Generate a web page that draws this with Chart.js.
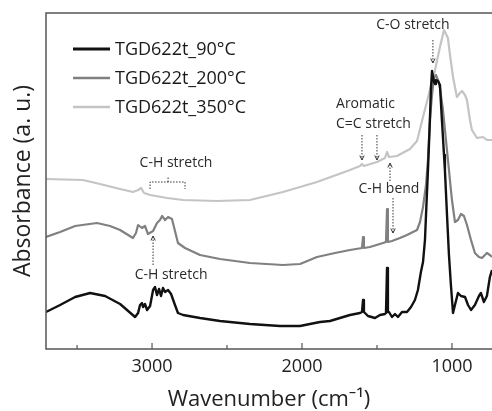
<!DOCTYPE html>
<html><head><meta charset="utf-8">
<script src="https://cdn.jsdelivr.net/npm/chart.js@4"></script>
<style>html,body{margin:0;padding:0;background:#fff}#wrap{width:492px;height:411px}</style>
</head><body><div id="wrap"><canvas id="c" width="492" height="411"></canvas></div>
<script>
const seriesLabels = ['TGD622t_90\u00B0C', 'TGD622t_200\u00B0C', 'TGD622t_350\u00B0C'];

const wn90 = [3707,3613,3513,3413,3313,3213,3113,3093,3080,3067,
  3060,3047,3033,3013,2993,2980,2967,2953,2940,2927,
  2913,2893,2873,2847,2827,2793,2680,2547,2347,2147,
  2013,1947,1880,1813,1747,1680,1613,1600,1593,1587,
  1560,1513,1480,1447,1440,1433,1427,1420,1400,1380,
  1360,1333,1300,1273,1247,1227,1207,1193,1180,1173,
  1160,1147,1140,1133,1120,1113,1107,1093,1080,1067,
  1053,1047,1033,1020,1007,993,980,960,940,913,
  893,873,847,820,807,787,767,747,733];
const abs90 = [0.37,0.44,0.52,0.56,0.53,0.45,0.32,0.36,0.44,0.46,
  0.42,0.45,0.39,0.43,0.59,0.62,0.54,0.60,0.53,0.61,
  0.57,0.59,0.55,0.44,0.36,0.34,0.31,0.28,0.25,0.23,
  0.23,0.25,0.27,0.28,0.31,0.34,0.36,0.37,0.49,0.37,
  0.33,0.31,0.34,0.35,0.36,0.81,0.37,0.37,0.32,0.35,
  0.32,0.37,0.37,0.42,0.49,0.59,0.77,0.87,1.09,1.34,
  1.79,2.29,2.61,2.78,2.67,2.65,2.69,2.68,2.64,2.29,
  1.94,1.79,1.34,0.94,0.64,0.36,0.44,0.56,0.53,0.52,
  0.44,0.39,0.44,0.53,0.56,0.47,0.53,0.72,0.79];

const wn200 = [3707,3613,3513,3367,3280,3213,3127,3107,3093,3067,
  3047,3027,2993,2967,2947,2933,2913,2893,2867,2847,
  2827,2780,2680,2547,2347,2127,2013,1900,1780,1680,
  1600,1593,1587,1547,1460,1440,1433,1427,1400,1347,
  1300,1260,1233,1213,1193,1173,1160,1147,1133,1120,
  1107,1093,1080,1060,1040,1020,1007,1000,980,960,
  940,920,900,873,847,820,800,780,767,747,733];
const abs200 = [1.12,1.17,1.23,1.26,1.23,1.19,1.11,1.16,1.24,1.21,
  1.23,1.15,1.18,1.26,1.29,1.33,1.29,1.32,1.30,1.18,
  1.06,1.01,0.94,0.90,0.86,0.84,0.85,0.92,0.96,0.99,
  1.01,1.12,1.01,1.02,1.06,1.07,1.40,1.07,1.08,1.11,
  1.14,1.17,1.19,1.27,1.42,1.64,1.89,2.29,2.54,2.71,
  2.74,2.69,2.61,2.39,2.09,1.79,1.59,1.49,1.27,1.29,
  1.35,1.33,1.24,1.09,0.96,0.92,0.91,0.94,0.96,0.94,0.92];

const wn350 = [3707,3460,3347,3213,3127,3093,3073,3053,3013,2900,
  2793,2567,2347,2127,1900,1680,1613,1600,1587,1500,
  1447,1433,1420,1367,1280,1233,1193,1147,1113,1080,
  1053,1027,1013,993,967,947,933,913,900,880,
  867,833,793,767,733];
const abs350 = [1.70,1.69,1.65,1.60,1.57,1.59,1.61,1.56,1.54,1.51,
  1.49,1.48,1.49,1.57,1.67,1.79,1.83,1.85,1.83,1.87,
  1.91,1.97,1.92,1.93,2.00,2.08,2.32,2.59,2.79,3.02,
  3.19,3.11,2.94,2.72,2.52,2.56,2.58,2.54,2.49,2.29,
  2.19,2.11,2.12,2.09,2.09];

const xTicks = [3500, 3000, 2500, 2000, 1500, 1000];
const xTickLabels = ['', '3000', '', '2000', '', '1000'];
const colors = ['#111111', '#808080', '#c4c4c4'];

function pts(xs, ys) { return xs.map((v, i) => ({x: v, y: ys[i]})); }

const FONT = "'Open Sans', 'Noto Sans', sans-serif";

function arrow(ctx, x1, y1, x2, y2) {
  ctx.save();
  ctx.setLineDash([1.5, 1.5]);
  ctx.beginPath(); ctx.moveTo(x1, y1); ctx.lineTo(x2, y2); ctx.stroke();
  ctx.setLineDash([]);
  const ang = Math.atan2(y2 - y1, x2 - x1);
  const s = 5;
  ctx.beginPath();
  ctx.moveTo(x2 - s * Math.cos(ang - 0.45), y2 - s * Math.sin(ang - 0.45));
  ctx.lineTo(x2, y2);
  ctx.lineTo(x2 - s * Math.cos(ang + 0.45), y2 - s * Math.sin(ang + 0.45));
  ctx.stroke();
  ctx.restore();
}

const decor = {
  id: 'decor',
  afterDatasetsDraw(chart) {
    const {ctx, chartArea: a, scales: {x, y}} = chart;
    const X = v => x.getPixelForValue(v), Y = v => y.getPixelForValue(v);
    ctx.save();
    // frame
    ctx.strokeStyle = '#555'; ctx.lineWidth = 1.5;
    ctx.beginPath();
    ctx.moveTo(a.right + 2, a.top); ctx.lineTo(a.left, a.top);
    ctx.lineTo(a.left, a.bottom); ctx.lineTo(a.right + 2, a.bottom);
    ctx.stroke();
    // inward ticks
    ctx.lineWidth = 1.2;
    xTicks.forEach((v, i) => {
      const px = X(v), len = xTickLabels[i] ? 6 : 4;
      ctx.beginPath(); ctx.moveTo(px, a.bottom); ctx.lineTo(px, a.bottom - len); ctx.stroke();
    });
    // legend
    ctx.textBaseline = 'middle'; ctx.textAlign = 'left';
    ctx.font = '18px ' + FONT;
    chart.data.datasets.forEach((ds, i) => {
      const ly = a.top + 36 + i * 29;
      ctx.strokeStyle = ds.borderColor; ctx.lineWidth = i === 0 ? 3 : 2.5;
      ctx.beginPath(); ctx.moveTo(a.left + 27, ly); ctx.lineTo(a.left + 64, ly); ctx.stroke();
      ctx.fillStyle = '#1a1a1a';
      ctx.fillText(ds.label, a.left + 69, ly + 1);
    });
    // annotations
    ctx.font = '14px ' + FONT; ctx.fillStyle = '#2a2a2a'; ctx.strokeStyle = '#333'; ctx.lineWidth = 1;
    ctx.textAlign = 'center';
    ctx.fillText('C-O stretch', X(1260), Y(3.24));
    arrow(ctx, X(1127), Y(3.09), X(1127), Y(2.86));
    ctx.textAlign = 'left';
    ctx.fillText('Aromatic', X(1773), Y(2.45));
    ctx.fillText('C=C stretch', X(1773), Y(2.25));
    arrow(ctx, X(1600), Y(2.14), X(1600), Y(1.89));
    arrow(ctx, X(1500), Y(2.14), X(1500), Y(1.89));
    ctx.textAlign = 'center';
    ctx.fillText('C-H bend', X(1420), Y(1.60));
    arrow(ctx, X(1413), Y(1.68), X(1413), Y(1.86));
    arrow(ctx, X(1393), Y(1.51), X(1393), Y(1.16));
    ctx.fillText('C-H stretch', X(2840), Y(1.86));
    // bracket
    ctx.save(); ctx.setLineDash([1.5, 1.5]);
    ctx.beginPath();
    ctx.moveTo(X(3013), Y(1.60)); ctx.lineTo(X(3013), Y(1.67));
    ctx.lineTo(X(2780), Y(1.67)); ctx.lineTo(X(2780), Y(1.60));
    ctx.moveTo(X(2893), Y(1.67)); ctx.lineTo(X(2893), Y(1.72));
    ctx.stroke(); ctx.restore();
    ctx.fillText('C-H stretch', X(2873), Y(0.74));
    arrow(ctx, X(2993), Y(0.84), X(2993), Y(1.13));
    ctx.restore();
  }
};

new Chart(document.getElementById('c'), {
  type: 'line',
  data: {
    datasets: seriesLabels.map((lab, i) => ({
      label: lab,
      data: pts([wn90, wn200, wn350][i], [abs90, abs200, abs350][i]),
      borderColor: colors[i],
      borderWidth: i === 0 ? 2.4 : 2.2,
      pointRadius: 0,
      tension: 0,
      borderJoinStyle: 'round',
      fill: false
    }))
  },
  options: {
    responsive: false,
    animation: false,
    devicePixelRatio: 1,
    layout: {padding: {top: 13, left: 0, right: 0, bottom: 0}},
    plugins: {legend: {display: false}, tooltip: {enabled: false}},
    scales: {
      x: {
        type: 'linear', reverse: true, min: 733, max: 3707,
        afterBuildTicks: s => { s.ticks = xTicks.map(v => ({value: v})); },
        afterFit: s => { s.height = 62; },
        grid: {display: false, drawTicks: false},
        border: {display: false},
        ticks: {
          padding: 7, maxRotation: 0, autoSkip: false, color: '#222',
          font: {family: FONT, size: 18},
          callback: v => xTickLabels[xTicks.indexOf(v)]
        },
        title: {display: true, text: 'Wavenumber (cm\u207B\u00B9)', color: '#222',
          font: {family: FONT, size: 22, lineHeight: 1}, padding: {top: 0, bottom: 0}}
      },
      y: {
        min: 0, max: 3.36,
        afterFit: s => { s.width = 46; },
        grid: {display: false, drawTicks: false},
        border: {display: false},
        ticks: {display: false},
        title: {display: true, text: 'Absorbance (a. u.)', color: '#222',
          font: {family: FONT, size: 23}, padding: {top: 10, bottom: 0}}
      }
    }
  },
  plugins: [decor]
});
</script>
</body></html>
